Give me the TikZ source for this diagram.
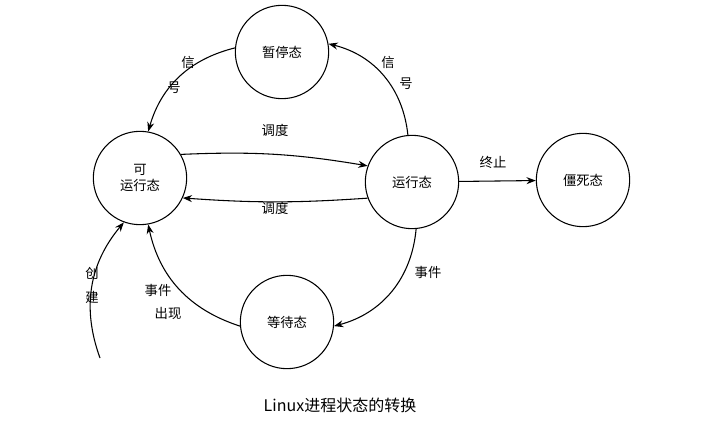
\documentclass[tikz,border=0pt]{standalone}
\usepackage{fontspec}
\setmainfont{Noto Sans CJK SC}
\usetikzlibrary{arrows.meta, positioning}
\tikzset{
    st/.style={circle, draw, thick, minimum size=70pt, inner sep=0pt, font=\normalsize},
    tr/.style={-{Stealth[length=7pt]}, thick},
    lab/.style={font=\normalsize, inner sep=1pt},
}
\begin{document}
\begin{tikzpicture}[x=0.75pt, y=-0.75pt]
    \useasboundingbox (0,0) rectangle (713,431);

    \node[st] (pause) at (282,52) {暂停态};
    \node[st, align=center] (ready) at (140,178) {可\\运行态};
    \node[st] (run) at (412,182) {运行态};
    \node[st] (zombie) at (583,180) {僵死态};
    \node[st] (wait) at (287,322) {等待态};
    \coordinate (born) at (100,358);

    \draw[tr] (run.95) to[bend right=35] (pause.10);
    \draw[tr] (pause.175) to[bend right=30] (ready.80);
    \draw[tr] (ready.30) to[bend left=6] (run.160);
    \draw[tr] (run.200) to[bend left=4] (ready.-25);
    \draw[tr] (run) -- (zombie);
    \draw[tr] (run.-85) to[bend left=35] (wait.-5);
    \draw[tr] (wait.185) to[bend left=30] (ready.-80);
    \draw[tr] (born) to[bend left=30] (ready.-110);

    \node[lab] (s1a) at (188,62) {信};
    \node[lab] (s1b) at (174,88) {号};
    \node[lab] (s2a) at (388,62) {信};
    \node[lab] (s2b) at (406,84) {号};
    \node[lab] (d1) at (275,130) {调度};
    \node[lab] (d2) at (275,208) {调度};
    \node[lab] (end) at (493,162) {终止};
    \node[lab] (ev) at (428,272) {事件};
    \node[lab] (ev1) at (158,290) {事件};
    \node[lab] (ev2) at (168,313) {出现};
    \node[lab] (c1) at (92,273) {创};
    \node[lab] (c2) at (92,297) {建};
    \node[font=\large] (title) at (340,405) {Linux进程状态的转换};
\end{tikzpicture}
\end{document}
